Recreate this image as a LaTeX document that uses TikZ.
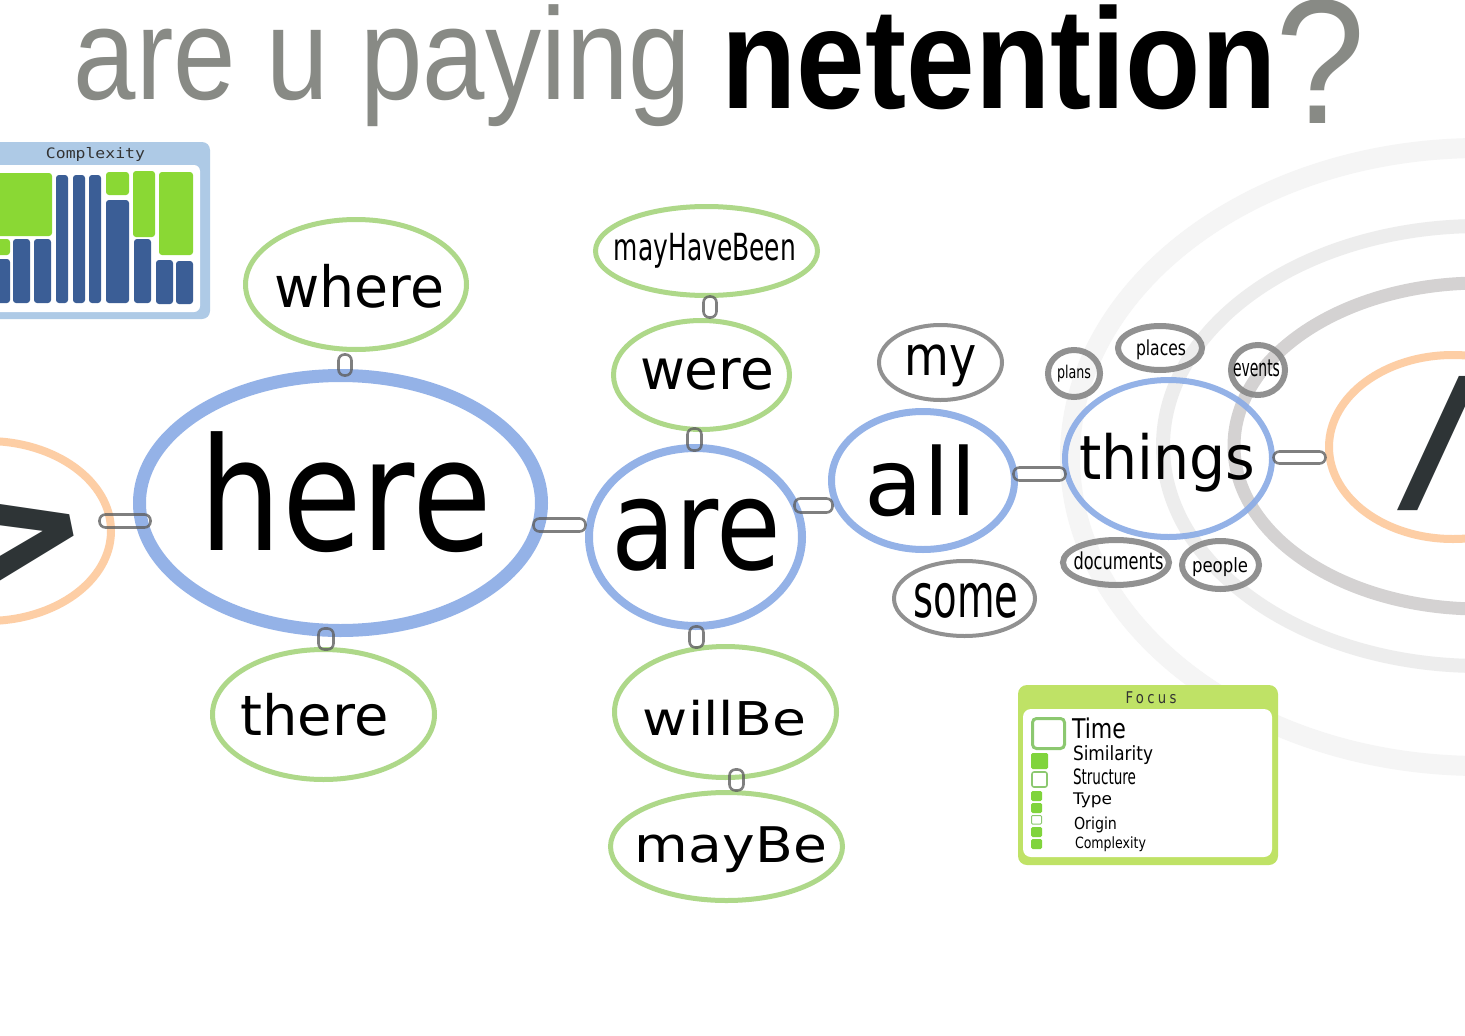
\documentclass[tikz,border=0pt]{standalone}
\usepackage{fontspec}
\usepackage{graphicx}
\usetikzlibrary{shapes.geometric}
\setmainfont{DejaVu Sans}
\newfontfamily\titlefont{Liberation Sans}
\newfontfamily\codefont{DejaVu Sans Mono}
\newfontfamily\spacedfont[LetterSpace=25]{DejaVu Sans}
\definecolor{nodeblue}{RGB}{139,172,230}
\definecolor{nodegreen}{RGB}{174,216,137}
\definecolor{nodegray}{RGB}{136,136,136}
\definecolor{nodeorange}{RGB}{253,206,165}
\definecolor{linkgray}{RGB}{95,95,95}
\definecolor{glyphdark}{RGB}{46,52,54}
\definecolor{titlegray}{RGB}{136,138,133}
\definecolor{ringA}{RGB}{245,245,245}
\definecolor{ringB}{RGB}{237,237,237}
\definecolor{ringC}{RGB}{212,210,210}
\definecolor{cxframe}{RGB}{174,202,230}
\definecolor{cxgreen}{RGB}{138,216,52}
\definecolor{cxblue}{RGB}{59,94,150}
\definecolor{fcframe}{RGB}{191,226,102}
\definecolor{fcfill}{RGB}{128,212,60}
\definecolor{fcline}{RGB}{140,200,112}
\definecolor{labeldark}{RGB}{51,51,51}
\newcommand\fitbox[3]{\resizebox*{#1pt}{#2pt}{#3}}
\begin{document}
\begin{tikzpicture}[x=1pt,y=-1pt,
  ell/.style={ellipse, inner sep=0pt, outer sep=0pt},
  core/.style={ell, draw=nodeblue, draw opacity=0.92},
  leaf/.style={ell, draw=nodegreen, line width=5pt},
  tag/.style={ell, draw=nodegray, draw opacity=0.92},
  nav/.style={ell, draw=nodeorange, line width=8pt},
  link/.style={rectangle, rounded corners=6pt, draw=linkgray, draw opacity=0.8, line width=2.6pt, inner sep=0pt, outer sep=0pt},
  txt/.style={inner sep=0pt, outer sep=0pt},
  treeG/.style={fill=cxgreen, rounded corners=3pt},
  treeB/.style={fill=cxblue, rounded corners=3pt},
  legfill/.style={fill=fcfill, rounded corners=1.5pt},
  legline/.style={draw=fcline, fill=white, rounded corners=2pt}
]
\useasboundingbox (0,0) rectangle (1465,1036);
\fill[white] (0,0) rectangle (1465,1036);
\begin{scope}
\clip (0,0) rectangle (1465,1036);

% background rings
\draw[ringA, line width=20pt] (1480,457) ellipse [x radius=410pt, y radius=309pt];
\draw[ringB, line width=14pt] (1480,446) ellipse [x radius=317pt, y radius=220pt];
\draw[ringC, line width=13pt] (1480,446) ellipse [x radius=246pt, y radius=163pt];

% title
\node[txt, text=titlegray] (title1) at (382.5,66) {\fitbox{617}{122}{\titlefont are u paying}};
\node[txt, text=black] (title2) at (999,57.5) {\fitbox{554}{105}{\titlefont\bfseries netention}};
\node[txt, text=titlegray] (title3) at (1321,61) {\fitbox{90}{124}{\titlefont ?}};

% navigation nodes
\node[nav, minimum width=248pt, minimum height=180pt] (prev) at (-13,531) {};
\node[txt, anchor=east, rotate=11.5, text=glyphdark, font=\bfseries\fontsize{190}{190}\selectfont] (prev-t) at (92,524) {>};
\node[nav, minimum width=248pt, minimum height=184pt] (next) at (1453,447) {};
\node[txt, text=glyphdark] (next-t) at (1438.5,444) {\fitbox{82}{134}{/}};

% core nodes
\node[core, line width=13pt, minimum width=402pt, minimum height=255pt] (here) at (340.5,503) {};
\node[core, line width=8pt, minimum width=213pt, minimum height=178pt] (are) at (695.5,537) {};
\node[core, line width=7pt, minimum width=183pt, minimum height=138pt] (all) at (923,480.5) {};
\node[core, line width=6pt, minimum width=207pt, minimum height=157pt] (things) at (1168.5,458.5) {};

% green nodes
\node[leaf, minimum width=221pt, minimum height=130pt] (where) at (356,284.5) {};
\node[leaf, minimum width=222pt, minimum height=130pt] (there) at (323.5,714.5) {};
\node[leaf, minimum width=222pt, minimum height=89pt] (mayHaveBeen) at (706.5,251) {};
\node[leaf, minimum width=176pt, minimum height=109pt] (were) at (701.5,375) {};
\node[leaf, minimum width=222pt, minimum height=131pt] (willBe) at (725.5,712) {};
\node[leaf, minimum width=232pt, minimum height=108pt] (mayBe) at (726.5,846.5) {};

% gray nodes
\node[tag, line width=4pt, minimum width=123pt, minimum height=75pt] (my) at (940.5,362.5) {};
\node[tag, line width=4pt, minimum width=141pt, minimum height=75pt] (some) at (964.5,598.5) {};
\node[tag, line width=6pt, minimum width=52pt, minimum height=47pt] (plans) at (1074,373.5) {};
\node[tag, line width=6pt, minimum width=84pt, minimum height=44pt] (places) at (1160,348) {};
\node[tag, line width=6pt, minimum width=54pt, minimum height=50pt] (events) at (1258,370) {};
\node[tag, line width=6pt, minimum width=106pt, minimum height=45pt] (documents) at (1116,562.5) {};
\node[tag, line width=6pt, minimum width=77pt, minimum height=48pt] (people) at (1220.5,565) {};

% texts
\node[txt] (here-t) at (346,492.5) {\fitbox{292}{121}{here}};
\node[txt] (are-t) at (696.5,535) {\fitbox{170}{72}{are}};
\node[txt] (all-t) at (921,481) {\fitbox{112}{72}{all}};
\node[txt] (things-t) at (1167.5,462.5) {\fitbox{176}{59}{things}};
\node[txt] (where-t) at (359.5,286) {\fitbox{170}{44}{where}};
\node[txt] (there-t) at (314.5,714.5) {\fitbox{148}{43}{there}};
\node[txt] (mayHaveBeen-t) at (705,250.5) {\fitbox{182}{35}{mayHaveBeen}};
\node[txt] (were-t) at (707,374) {\fitbox{134}{32}{were}};
\node[txt] (willBe-t) at (724.5,718) {\fitbox{163}{36}{willBe}};
\node[txt] (mayBe-t) at (731,850) {\fitbox{192}{46}{mayBe}};
\node[txt] (my-t) at (940.5,366) {\fitbox{72}{42}{my}};
\node[txt] (some-t) at (966,600.5) {\fitbox{105}{35}{some}};
\node[txt] (plans-t) at (1074,373.5) {\fitbox{34}{17}{plans}};
\node[txt] (places-t) at (1161,350) {\fitbox{50}{20}{places}};
\node[txt] (events-t) at (1256.5,368.5) {\fitbox{47}{17}{events}};
\node[txt] (documents-t) at (1118.5,561) {\fitbox{90}{18}{documents}};
\node[txt] (people-t) at (1220,567.5) {\fitbox{56}{19}{people}};

% links (connectors)
\node[link, minimum width=51pt, minimum height=13pt] (lk-prev-here) at (125,521) {};
\node[link, minimum width=52pt, minimum height=13pt] (lk-here-are) at (559.5,525) {};
\node[link, minimum width=38pt, minimum height=14pt] (lk-are-all) at (813.5,505.5) {};
\node[link, minimum width=52pt, minimum height=13pt] (lk-all-things) at (1039.5,474) {};
\node[link, minimum width=52pt, minimum height=12pt] (lk-things-next) at (1299.5,457.5) {};
\node[link, minimum width=13pt, minimum height=21pt] (lk-where-here) at (345,365) {};
\node[link, minimum width=15pt, minimum height=21pt] (lk-here-there) at (326,639) {};
\node[link, minimum width=13pt, minimum height=21pt] (lk-may-were) at (710,307) {};
\node[link, minimum width=14pt, minimum height=22pt] (lk-were-are) at (694.5,439.5) {};
\node[link, minimum width=14pt, minimum height=21pt] (lk-are-willBe) at (696.5,637) {};
\node[link, minimum width=14pt, minimum height=21pt] (lk-willBe-mayBe) at (736.5,780) {};

% complexity panel
\fill[cxframe, rounded corners=8pt] (-12,142) rectangle (210,319);
\fill[white, rounded corners=6pt] (-12,165) rectangle (200,312);
\node[txt, text=labeldark] (cx-title) at (95.5,154) {\fitbox{99}{14}{\codefont Complexity}};
\fill[treeG] (-5,173) rectangle (52,236);
\fill[treeG] (-5,239) rectangle (10,255);
\fill[treeG] (106,172) rectangle (129,195);
\fill[treeG] (133,171) rectangle (155,237);
\fill[treeG] (159,172) rectangle (193,255);
\fill[treeB] (-5,259) rectangle (10,303);
\fill[treeB] (13,239) rectangle (30,303);
\fill[treeB] (34,239) rectangle (51,303);
\fill[treeB] (56,175) rectangle (68,303);
\fill[treeB] (73,175) rectangle (85,303);
\fill[treeB] (89,175) rectangle (101,303);
\fill[treeB] (106,200) rectangle (129,303);
\fill[treeB] (134,239) rectangle (151,303);
\fill[treeB] (156,260) rectangle (173,304);
\fill[treeB] (176,261) rectangle (193,304);

% focus panel
\fill[fcframe, rounded corners=9pt] (1018,685) rectangle (1278,865);
\fill[white, rounded corners=8pt] (1023,709) rectangle (1272,857);
\node[txt, text=labeldark] (fc-title) at (1151,698) {\fitbox{51}{12}{\spacedfont Focus}};
\draw[legline, line width=3pt, rounded corners=4pt] (1032.5,718.5) rectangle (1064.5,748.5);
\fill[legfill] (1031,753) rectangle (1048,769);
\draw[legline, line width=1.6pt] (1032,772) rectangle (1047,787);
\fill[legfill] (1031,791) rectangle (1042,801);
\fill[legfill] (1031,803) rectangle (1042,813);
\draw[legline, line width=1pt, rounded corners=1pt] (1031.5,815.5) rectangle (1041.5,824);
\fill[legfill] (1031,827) rectangle (1042,837);
\fill[legfill] (1031,839) rectangle (1042,849);
\node[txt] (lg-time) at (1099,728.5) {\fitbox{54}{21}{Time}};
\node[txt] (lg-sim) at (1113,755.5) {\fitbox{80}{19}{Similarity}};
\node[txt] (lg-struct) at (1104.5,777) {\fitbox{63}{16}{Structure}};
\node[txt] (lg-type) at (1092.5,800.5) {\fitbox{39}{15}{Type}};
\node[txt] (lg-origin) at (1095.5,825) {\fitbox{43}{16}{Origin}};
\node[txt] (lg-cx) at (1110.5,844.5) {\fitbox{71}{15}{Complexity}};
\end{scope}
\end{tikzpicture}
\end{document}
